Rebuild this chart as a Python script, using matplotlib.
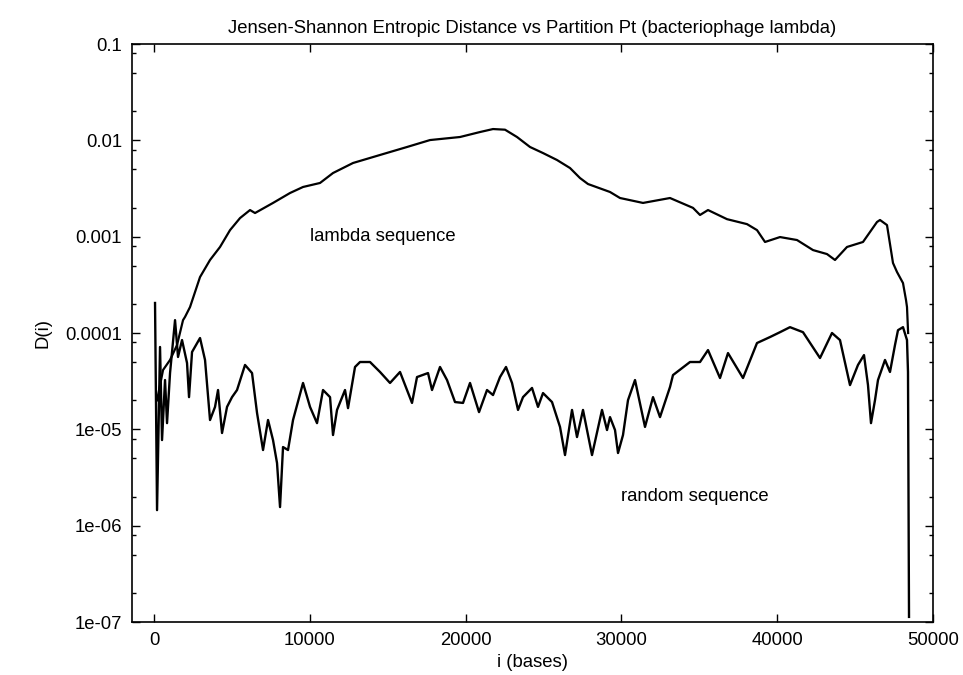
import matplotlib
matplotlib.use("Agg")
import matplotlib.pyplot as plt
from matplotlib.ticker import FixedLocator, FixedFormatter, LogLocator, NullFormatter

plt.rcParams['font.family'] = ['Liberation Sans', 'DejaVu Sans']

# lambda phage sequence, D(i)
lambda_x = [193, 578, 1027, 1476, 1861, 1990, 2310, 2952, 3594, 4236, 4878, 5519,
            6161, 6482, 7637, 8728, 9563, 10654, 11488, 12772, 14505, 16237, 17713,
            19639, 20923, 21757, 22527, 23297, 24132, 24966, 25864, 26699, 27341,
            27854, 29266, 29908, 31384, 33117, 34593, 35043, 35556, 36775, 38059,
            38701, 39214, 40177, 41268, 42295, 43193, 43707, 44477, 45504, 46402,
            46595, 47044, 47429, 47686, 48071, 48264, 48328, 48400]
lambda_y = [2.0e-5, 4.13e-5, 5.25e-5, 7.5e-5, 1.36e-4, 1.47e-4, 1.86e-4, 3.81e-4,
            5.73e-4, 7.82e-4, 1.17e-3, 1.56e-3, 1.89e-3, 1.76e-3, 2.24e-3, 2.84e-3,
            3.28e-3, 3.61e-3, 4.58e-3, 5.82e-3, 7.05e-3, 8.53e-3, 1.007e-2, 1.083e-2,
            1.22e-2, 1.31e-2, 1.29e-2, 1.083e-2, 8.53e-3, 7.38e-3, 6.25e-3, 5.16e-3,
            4.06e-3, 3.52e-3, 2.91e-3, 2.52e-3, 2.24e-3, 2.52e-3, 1.99e-3, 1.68e-3,
            1.89e-3, 1.52e-3, 1.35e-3, 1.17e-3, 8.81e-4, 9.91e-4, 9.23e-4, 7.26e-4,
            6.60e-4, 5.73e-4, 7.82e-4, 8.81e-4, 1.42e-3, 1.49e-3, 1.32e-3, 5.33e-4,
            4.30e-4, 3.30e-4, 2.20e-4, 1.86e-4, 1.0e-4]

# random sequence, D(i)
random_x = [64, 193, 385, 513, 706, 834, 1027, 1348, 1540, 1797, 2118, 2246, 2439,
            2952, 3273, 3594, 3915, 4108, 4364, 4685, 5006, 5327, 5840, 6290, 6611,
            6996, 7317, 7637, 7894, 8087, 8279, 8600, 8921, 9563, 10012, 10461,
            10846, 11296, 11488, 11745, 12258, 12451, 12900, 13221, 13863, 14505,
            15146, 15788, 16558, 16879, 17585, 17842, 18355, 18805, 19318, 19832,
            20281, 20859, 21372, 21757, 22206, 22591, 22976, 23362, 23682, 24260,
            24645, 24966, 25544, 26057, 26378, 26827, 27148, 27533, 28111, 28753,
            29074, 29266, 29587, 29780, 30100, 30421, 30871, 31512, 32026, 32475,
            33117, 33309, 34400, 35043, 35556, 36326, 36839, 37802, 38700, 39535,
            40177, 40818, 41653, 42744, 43514, 44027, 44669, 45182, 45568, 45824,
            46017, 46274, 46466, 46916, 47236, 47557, 47750, 48071, 48328, 48392,
            48457]
random_y = [2.05e-4, 1.45e-6, 7.16e-5, 7.74e-6, 3.25e-5, 1.16e-5, 3.84e-5, 1.36e-4,
            5.64e-5, 8.45e-5, 4.88e-5, 2.16e-5, 6.35e-5, 8.87e-5, 5.25e-5, 1.25e-5,
            1.71e-5, 2.56e-5, 9.16e-6, 1.71e-5, 2.16e-5, 2.56e-5, 4.66e-5, 3.84e-5,
            1.48e-5, 6.10e-6, 1.25e-5, 7.74e-6, 4.47e-6, 1.56e-6, 6.55e-6, 6.10e-6,
            1.25e-5, 3.03e-5, 1.71e-5, 1.16e-5, 2.56e-5, 2.16e-5, 8.73e-6, 1.59e-5,
            2.56e-5, 1.66e-5, 4.44e-5, 5.00e-5, 5.00e-5, 3.94e-5, 3.03e-5, 3.94e-5,
            1.88e-5, 3.49e-5, 3.84e-5, 2.56e-5, 4.44e-5, 3.25e-5, 1.92e-5, 1.88e-5,
            3.03e-5, 1.51e-5, 2.56e-5, 2.27e-5, 3.49e-5, 4.44e-5, 3.03e-5, 1.59e-5,
            2.16e-5, 2.69e-5, 1.71e-5, 2.38e-5, 1.92e-5, 1.06e-5, 5.41e-6, 1.59e-5,
            8.32e-6, 1.59e-5, 5.41e-6, 1.59e-5, 9.84e-6, 1.34e-5, 9.84e-6, 5.68e-6,
            8.73e-6, 2.01e-5, 3.25e-5, 1.06e-5, 2.16e-5, 1.34e-5, 2.75e-5, 3.66e-5,
            5.00e-5, 5.00e-5, 6.65e-5, 3.41e-5, 6.19e-5, 3.41e-5, 7.87e-5, 9.08e-5,
            1.02e-4, 1.15e-4, 1.02e-4, 5.50e-5, 1.0e-4, 8.45e-5, 2.88e-5, 4.66e-5,
            5.90e-5, 2.88e-5, 1.16e-5, 2.01e-5, 3.25e-5, 5.25e-5, 3.94e-5, 7.50e-5,
            1.07e-4, 1.15e-4, 8.45e-5, 3.94e-5, 1.13e-7]

y_ticks = [1e-7, 1e-6, 1e-5, 1e-4, 1e-3, 1e-2, 1e-1]
y_tick_labels = ['1e-07', '1e-06', '1e-05', '0.0001', '0.001', '0.01', '0.1']
x_ticks = [0, 10000, 20000, 30000, 40000, 50000]

fs = 13.3

fig = plt.figure(figsize=(9.63, 6.75), dpi=100)
ax = fig.add_axes([0.1368, 0.0785, 0.8321, 0.8563])

ax.plot(lambda_x, lambda_y, color='black', lw=1.6)
ax.plot(random_x, random_y, color='black', lw=1.7)

ax.set_yscale('log')
ax.set_xlim(-1431, 50000)
ax.set_ylim(1e-7, 0.1)

ax.xaxis.set_major_locator(FixedLocator(x_ticks))
ax.yaxis.set_major_locator(FixedLocator(y_ticks))
ax.yaxis.set_major_formatter(FixedFormatter(y_tick_labels))
ax.yaxis.set_minor_locator(LogLocator(base=10, subs=(2.0, 5.0, 8.0), numticks=20))
ax.yaxis.set_minor_formatter(NullFormatter())

ax.tick_params(which='both', direction='in', top=True, right=True,
               labelsize=fs, width=1.0, pad=7)
ax.tick_params(which='major', length=6)
ax.tick_params(which='minor', length=3)
for s in ax.spines.values():
    s.set_linewidth(1.2)

ax.set_title('Jensen-Shannon Entropic Distance vs Partition Pt (bacteriophage lambda)',
             fontsize=fs, pad=8)
ax.set_xlabel('i (bases)', fontsize=fs, labelpad=4)
ax.set_ylabel('D(i)', fontsize=fs, labelpad=10)

ax.text(10000, 1e-3, 'lambda sequence', fontsize=fs, va='center', ha='left')
ax.text(30000, 2e-6, 'random sequence', fontsize=fs, va='center', ha='left')

fig.savefig('out.png', dpi=100)
